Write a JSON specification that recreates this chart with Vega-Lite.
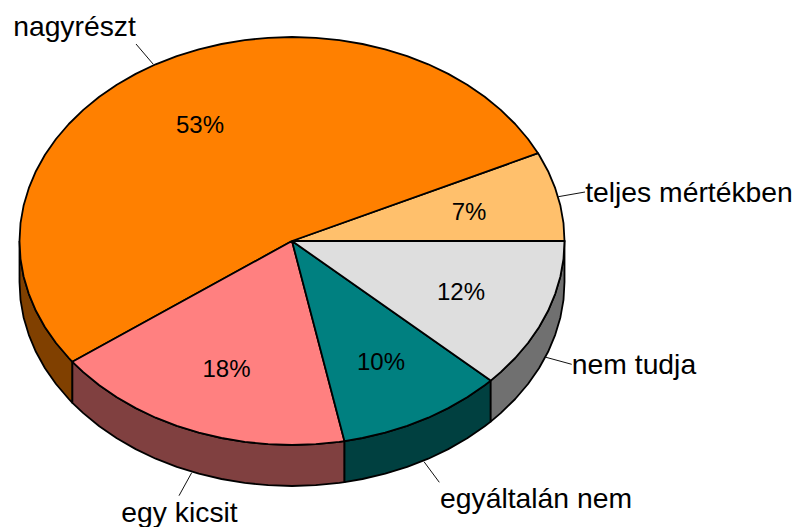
{"$schema":"https://vega.github.io/schema/vega-lite/v6.json","width":797,"height":527,"padding":0,"autosize":"none","background":"white","view":{"stroke":null},
"config":{"font":"Liberation Sans"},
"datasets":{
"leaders":[
{"k":"a","i":0,"x":-156,"y":197},{"k":"a","i":1,"x":-138.7,"y":176.7},
{"k":"b","i":0,"x":266.3,"y":44.3},{"k":"b","i":1,"x":293,"y":49},
{"k":"c","i":0,"x":254,"y":-116.3},{"k":"c","i":1,"x":279.7,"y":-123.3},
{"k":"d","i":0,"x":-100.3,"y":-231.7},{"k":"d","i":1,"x":-113,"y":-254.7},
{"k":"e","i":0,"x":132,"y":-220.7},{"k":"e","i":1,"x":147.3,"y":-241.3}],
"pcts":[
{"t":"53%","x":-92,"y":108},{"t":"7%","x":177,"y":21},{"t":"12%","x":169,"y":-59},{"t":"10%","x":89,"y":-129},{"t":"18%","x":-65.5,"y":-136}],
"labels":[
{"t":"nagyrészt","x":-217.5,"y":205},{"t":"teljes mértékben","x":397,"y":39},{"t":"nem tudja","x":342,"y":-133},{"t":"egy kicsit","x":-112.5,"y":-281},{"t":"egyáltalán nem","x":244,"y":-267}],
"shape":[
{"p":"w1","i":0,"x":-272.5,"y":0},{"p":"w1","i":1,"x":-271.5,"y":-17.8},{"p":"w1","i":2,"x":-268.4,"y":-35.4},{"p":"w1","i":3,"x":-263.2,"y":-52.8},{"p":"w1","i":4,"x":-256.1,"y":-69.8},{"p":"w1","i":5,"x":-247,"y":-86.2},{"p":"w1","i":6,"x":-236,"y":-102},{"p":"w1","i":7,"x":-223.2,"y":-117},{"p":"w1","i":8,"x":-219.6,"y":-120.8},{"p":"w1","i":9,"x":-219.6,"y":-161.8},{"p":"w1","i":10,"x":-223.2,"y":-158},{"p":"w1","i":11,"x":-236,"y":-143},{"p":"w1","i":12,"x":-247,"y":-127.2},{"p":"w1","i":13,"x":-256.1,"y":-110.8},{"p":"w1","i":14,"x":-263.2,"y":-93.8},{"p":"w1","i":15,"x":-268.4,"y":-76.4},{"p":"w1","i":16,"x":-271.5,"y":-58.8},{"p":"w1","i":17,"x":-272.5,"y":-41},{"p":"w1","i":18,"x":-272.5,"y":0},
{"p":"w2","i":0,"x":-219.6,"y":-120.8},{"p":"w2","i":1,"x":-208.7,"y":-131.1},{"p":"w2","i":2,"x":-192.7,"y":-144.2},{"p":"w2","i":3,"x":-175.2,"y":-156.3},{"p":"w2","i":4,"x":-156.3,"y":-167.1},{"p":"w2","i":5,"x":-136.3,"y":-176.7},{"p":"w2","i":6,"x":-115.2,"y":-184.9},{"p":"w2","i":7,"x":-93.2,"y":-191.7},{"p":"w2","i":8,"x":-70.5,"y":-197},{"p":"w2","i":9,"x":-47.3,"y":-200.9},{"p":"w2","i":10,"x":-23.8,"y":-203.2},{"p":"w2","i":11,"x":0,"y":-204},{"p":"w2","i":12,"x":23.8,"y":-203.2},{"p":"w2","i":13,"x":47.3,"y":-200.9},{"p":"w2","i":14,"x":52.5,"y":-200.2},{"p":"w2","i":15,"x":52.5,"y":-241.2},{"p":"w2","i":16,"x":47.3,"y":-241.9},{"p":"w2","i":17,"x":23.8,"y":-244.2},{"p":"w2","i":18,"x":0,"y":-245},{"p":"w2","i":19,"x":-23.8,"y":-244.2},{"p":"w2","i":20,"x":-47.3,"y":-241.9},{"p":"w2","i":21,"x":-70.5,"y":-238},{"p":"w2","i":22,"x":-93.2,"y":-232.7},{"p":"w2","i":23,"x":-115.2,"y":-225.9},{"p":"w2","i":24,"x":-136.3,"y":-217.7},{"p":"w2","i":25,"x":-156.3,"y":-208.1},{"p":"w2","i":26,"x":-175.2,"y":-197.3},{"p":"w2","i":27,"x":-192.7,"y":-185.2},{"p":"w2","i":28,"x":-208.7,"y":-172.1},{"p":"w2","i":29,"x":-219.6,"y":-161.8},{"p":"w2","i":30,"x":-219.6,"y":-120.8},
{"p":"w3","i":0,"x":52.5,"y":-200.2},{"p":"w3","i":1,"x":70.5,"y":-197},{"p":"w3","i":2,"x":93.2,"y":-191.7},{"p":"w3","i":3,"x":115.2,"y":-184.9},{"p":"w3","i":4,"x":136.3,"y":-176.7},{"p":"w3","i":5,"x":156.3,"y":-167.1},{"p":"w3","i":6,"x":175.2,"y":-156.3},{"p":"w3","i":7,"x":192.7,"y":-144.2},{"p":"w3","i":8,"x":198.7,"y":-139.6},{"p":"w3","i":9,"x":198.7,"y":-180.6},{"p":"w3","i":10,"x":192.7,"y":-185.2},{"p":"w3","i":11,"x":175.2,"y":-197.3},{"p":"w3","i":12,"x":156.3,"y":-208.1},{"p":"w3","i":13,"x":136.3,"y":-217.7},{"p":"w3","i":14,"x":115.2,"y":-225.9},{"p":"w3","i":15,"x":93.2,"y":-232.7},{"p":"w3","i":16,"x":70.5,"y":-238},{"p":"w3","i":17,"x":52.5,"y":-241.2},{"p":"w3","i":18,"x":52.5,"y":-200.2},
{"p":"w4","i":0,"x":198.7,"y":-139.6},{"p":"w4","i":1,"x":208.7,"y":-131.1},{"p":"w4","i":2,"x":223.2,"y":-117},{"p":"w4","i":3,"x":236,"y":-102},{"p":"w4","i":4,"x":247,"y":-86.2},{"p":"w4","i":5,"x":256.1,"y":-69.8},{"p":"w4","i":6,"x":263.2,"y":-52.8},{"p":"w4","i":7,"x":268.4,"y":-35.4},{"p":"w4","i":8,"x":271.5,"y":-17.8},{"p":"w4","i":9,"x":272.5,"y":0},{"p":"w4","i":10,"x":272.5,"y":-41},{"p":"w4","i":11,"x":271.5,"y":-58.8},{"p":"w4","i":12,"x":268.4,"y":-76.4},{"p":"w4","i":13,"x":263.2,"y":-93.8},{"p":"w4","i":14,"x":256.1,"y":-110.8},{"p":"w4","i":15,"x":247,"y":-127.2},{"p":"w4","i":16,"x":236,"y":-143},{"p":"w4","i":17,"x":223.2,"y":-158},{"p":"w4","i":18,"x":208.7,"y":-172.1},{"p":"w4","i":19,"x":198.7,"y":-180.6},{"p":"w4","i":20,"x":198.7,"y":-139.6},
{"p":"teljes mértékben","i":0,"x":0,"y":0},{"p":"teljes mértékben","i":1,"x":272.5,"y":0},{"p":"teljes mértékben","i":2,"x":271.5,"y":17.8},{"p":"teljes mértékben","i":3,"x":268.4,"y":35.4},{"p":"teljes mértékben","i":4,"x":263.2,"y":52.8},{"p":"teljes mértékben","i":5,"x":256.1,"y":69.8},{"p":"teljes mértékben","i":6,"x":247,"y":86.2},{"p":"teljes mértékben","i":7,"x":246,"y":87.8},{"p":"teljes mértékben","i":8,"x":0,"y":0},
{"p":"nagyrészt","i":0,"x":0,"y":0},{"p":"nagyrészt","i":1,"x":246,"y":87.8},{"p":"nagyrészt","i":2,"x":236,"y":102},{"p":"nagyrészt","i":3,"x":223.2,"y":117},{"p":"nagyrészt","i":4,"x":208.7,"y":131.1},{"p":"nagyrészt","i":5,"x":192.7,"y":144.2},{"p":"nagyrészt","i":6,"x":175.2,"y":156.3},{"p":"nagyrészt","i":7,"x":156.3,"y":167.1},{"p":"nagyrészt","i":8,"x":136.3,"y":176.7},{"p":"nagyrészt","i":9,"x":115.2,"y":184.9},{"p":"nagyrészt","i":10,"x":93.2,"y":191.7},{"p":"nagyrészt","i":11,"x":70.5,"y":197},{"p":"nagyrészt","i":12,"x":47.3,"y":200.9},{"p":"nagyrészt","i":13,"x":23.8,"y":203.2},{"p":"nagyrészt","i":14,"x":0,"y":204},{"p":"nagyrészt","i":15,"x":-23.8,"y":203.2},{"p":"nagyrészt","i":16,"x":-47.3,"y":200.9},{"p":"nagyrészt","i":17,"x":-70.5,"y":197},{"p":"nagyrészt","i":18,"x":-93.2,"y":191.7},{"p":"nagyrészt","i":19,"x":-115.2,"y":184.9},{"p":"nagyrészt","i":20,"x":-136.3,"y":176.7},{"p":"nagyrészt","i":21,"x":-156.3,"y":167.1},{"p":"nagyrészt","i":22,"x":-175.2,"y":156.3},{"p":"nagyrészt","i":23,"x":-192.7,"y":144.2},{"p":"nagyrészt","i":24,"x":-208.7,"y":131.1},{"p":"nagyrészt","i":25,"x":-223.2,"y":117},{"p":"nagyrészt","i":26,"x":-236,"y":102},{"p":"nagyrészt","i":27,"x":-247,"y":86.2},{"p":"nagyrészt","i":28,"x":-256.1,"y":69.8},{"p":"nagyrészt","i":29,"x":-263.2,"y":52.8},{"p":"nagyrészt","i":30,"x":-268.4,"y":35.4},{"p":"nagyrészt","i":31,"x":-271.5,"y":17.8},{"p":"nagyrészt","i":32,"x":-272.5,"y":0},{"p":"nagyrészt","i":33,"x":-271.5,"y":-17.8},{"p":"nagyrészt","i":34,"x":-268.4,"y":-35.4},{"p":"nagyrészt","i":35,"x":-263.2,"y":-52.8},{"p":"nagyrészt","i":36,"x":-256.1,"y":-69.8},{"p":"nagyrészt","i":37,"x":-247,"y":-86.2},{"p":"nagyrészt","i":38,"x":-236,"y":-102},{"p":"nagyrészt","i":39,"x":-223.2,"y":-117},{"p":"nagyrészt","i":40,"x":-219.6,"y":-120.8},{"p":"nagyrészt","i":41,"x":0,"y":0},
{"p":"egy kicsit","i":0,"x":0,"y":0},{"p":"egy kicsit","i":1,"x":-219.6,"y":-120.8},{"p":"egy kicsit","i":2,"x":-208.7,"y":-131.1},{"p":"egy kicsit","i":3,"x":-192.7,"y":-144.2},{"p":"egy kicsit","i":4,"x":-175.2,"y":-156.3},{"p":"egy kicsit","i":5,"x":-156.3,"y":-167.1},{"p":"egy kicsit","i":6,"x":-136.3,"y":-176.7},{"p":"egy kicsit","i":7,"x":-115.2,"y":-184.9},{"p":"egy kicsit","i":8,"x":-93.2,"y":-191.7},{"p":"egy kicsit","i":9,"x":-70.5,"y":-197},{"p":"egy kicsit","i":10,"x":-47.3,"y":-200.9},{"p":"egy kicsit","i":11,"x":-23.8,"y":-203.2},{"p":"egy kicsit","i":12,"x":0,"y":-204},{"p":"egy kicsit","i":13,"x":23.8,"y":-203.2},{"p":"egy kicsit","i":14,"x":47.3,"y":-200.9},{"p":"egy kicsit","i":15,"x":52.5,"y":-200.2},{"p":"egy kicsit","i":16,"x":0,"y":0},
{"p":"egyáltalán nem","i":0,"x":0,"y":0},{"p":"egyáltalán nem","i":1,"x":52.5,"y":-200.2},{"p":"egyáltalán nem","i":2,"x":70.5,"y":-197},{"p":"egyáltalán nem","i":3,"x":93.2,"y":-191.7},{"p":"egyáltalán nem","i":4,"x":115.2,"y":-184.9},{"p":"egyáltalán nem","i":5,"x":136.3,"y":-176.7},{"p":"egyáltalán nem","i":6,"x":156.3,"y":-167.1},{"p":"egyáltalán nem","i":7,"x":175.2,"y":-156.3},{"p":"egyáltalán nem","i":8,"x":192.7,"y":-144.2},{"p":"egyáltalán nem","i":9,"x":198.7,"y":-139.6},{"p":"egyáltalán nem","i":10,"x":0,"y":0},
{"p":"nem tudja","i":0,"x":0,"y":0},{"p":"nem tudja","i":1,"x":198.7,"y":-139.6},{"p":"nem tudja","i":2,"x":208.7,"y":-131.1},{"p":"nem tudja","i":3,"x":223.2,"y":-117},{"p":"nem tudja","i":4,"x":236,"y":-102},{"p":"nem tudja","i":5,"x":247,"y":-86.2},{"p":"nem tudja","i":6,"x":256.1,"y":-69.8},{"p":"nem tudja","i":7,"x":263.2,"y":-52.8},{"p":"nem tudja","i":8,"x":268.4,"y":-35.4},{"p":"nem tudja","i":9,"x":271.5,"y":-17.8},{"p":"nem tudja","i":10,"x":272.5,"y":0},{"p":"nem tudja","i":11,"x":0,"y":0}
]},
"layer":[
{"data":{"name":"leaders"},"mark":{"type":"line","stroke":"#111111","strokeWidth":1},
"encoding":{"x":{"field":"x","type":"quantitative","scale":{"domain":[-292,505]},"axis":null},"y":{"field":"y","type":"quantitative","scale":{"domain":[-286,241]},"axis":null},"detail":{"field":"k"},"order":{"field":"i"}}},
{"data":{"name":"shape"},"mark":{"type":"line","stroke":"black","strokeWidth":1.8,"strokeJoin":"round","clip":false},
"encoding":{"x":{"field":"x","type":"quantitative","scale":{"domain":[-292,505]},"axis":null},"y":{"field":"y","type":"quantitative","scale":{"domain":[-286,241]},"axis":null},"detail":{"field":"p"},"order":{"field":"i"},
"fill":{"field":"p","type":"nominal","legend":null,"sort":null,"scale":{"domain":["w1","w2","w3","w4","teljes mértékben","nagyrészt","egy kicsit","egyáltalán nem","nem tudja"],"range":["#804000","#804040","#004040","#707070","#FFC06C","#FF8000","#FF8080","#008080","#DEDEDE"]}}}},
{"data":{"name":"pcts"},"mark":{"type":"text","font":"Liberation Sans","fontSize":24,"align":"center","baseline":"alphabetic","fill":"black"},
"encoding":{"x":{"field":"x","type":"quantitative","scale":{"domain":[-292,505]},"axis":null},"y":{"field":"y","type":"quantitative","scale":{"domain":[-286,241]},"axis":null},"text":{"field":"t"}}},
{"data":{"name":"labels"},"mark":{"type":"text","font":"Liberation Sans","fontSize":28.3,"align":"center","baseline":"alphabetic","fill":"black"},
"encoding":{"x":{"field":"x","type":"quantitative","scale":{"domain":[-292,505]},"axis":null},"y":{"field":"y","type":"quantitative","scale":{"domain":[-286,241]},"axis":null},"text":{"field":"t"}}}
]}
